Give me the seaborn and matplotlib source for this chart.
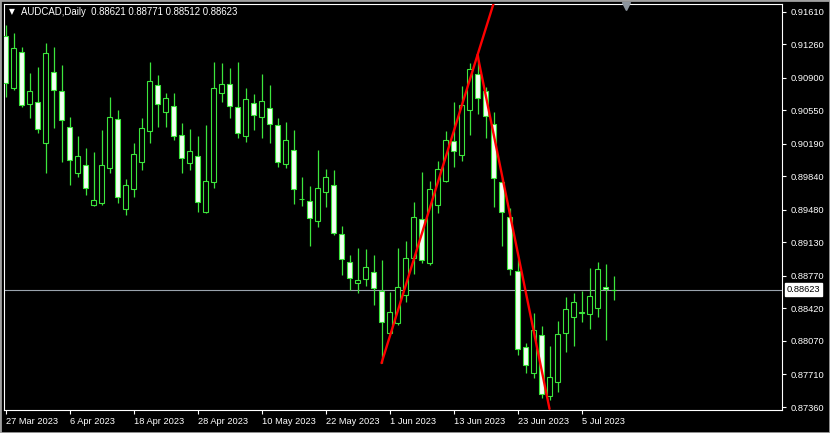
import seaborn as sns
import matplotlib.pyplot as plt
from matplotlib.patches import Rectangle

symbol = "AUDCAD,Daily"

opens = [0.91349, 0.90790, 0.91177, 0.90618, 0.90639, 0.90198, 0.90962, 0.90758, 0.90370, 0.89876,
         0.89962, 0.89532, 0.89553, 0.89930, 0.90456, 0.89489, 0.89704, 0.89994, 0.90327, 0.90822,
         0.90532, 0.90596, 0.90284, 0.89983, 0.90059, 0.89457, 0.89779, 0.90736, 0.90833, 0.90585,
         0.90274, 0.90628, 0.90478, 0.90575, 0.90392, 0.89973, 0.90123, 0.89592, 0.89575, 0.89360,
         0.89672, 0.89747, 0.89220, 0.88919, 0.88693, 0.88736, 0.88812, 0.88607, 0.88156, 0.88263,
         0.88564, 0.88962, 0.89381, 0.88908, 0.89532, 0.89790, 0.90220, 0.90069, 0.90553, 0.90940,
         0.90758, 0.90403, 0.89779, 0.89403, 0.88822, 0.88005, 0.87726, 0.88134, 0.87478, 0.87629,
         0.88156, 0.88328, 0.88376, 0.88360, 0.88425, 0.88650, 0.88621]
highs = [0.91467, 0.91381, 0.91231, 0.90951, 0.91016, 0.91274, 0.91231, 0.91037, 0.90478, 0.90274,
         0.90145, 0.90102, 0.90338, 0.90693, 0.90553, 0.89811, 0.90198, 0.90467, 0.91069, 0.90930,
         0.90736, 0.90736, 0.90413, 0.90349, 0.90274, 0.90392, 0.91069, 0.91059, 0.91005, 0.91069,
         0.90790, 0.90725, 0.90940, 0.90822, 0.90467, 0.90424, 0.90338, 0.89833, 0.89736, 0.90123,
         0.89919, 0.89908, 0.89306, 0.88994, 0.89070, 0.89059, 0.88994, 0.88941, 0.88597, 0.89070,
         0.89145, 0.89564, 0.89887, 0.89790, 0.90005, 0.90327, 0.90639, 0.90811, 0.91059, 0.91145,
         0.90801, 0.90532, 0.89833, 0.89500, 0.88951, 0.88048, 0.88371, 0.88231, 0.88016, 0.88285,
         0.88543, 0.88586, 0.88607, 0.88855, 0.88919, 0.88898, 0.88771]
lows = [0.90693, 0.90768, 0.90585, 0.90467, 0.90306, 0.89876, 0.90360, 0.89994, 0.89747, 0.89833,
        0.89639, 0.89521, 0.89532, 0.89876, 0.89553, 0.89424, 0.89618, 0.89908, 0.90198, 0.90370,
        0.90370, 0.90231, 0.89876, 0.89908, 0.89457, 0.89446, 0.89715, 0.90639, 0.90467, 0.90252,
        0.90209, 0.90338, 0.90252, 0.90198, 0.89940, 0.89930, 0.89543, 0.89521, 0.89091, 0.89295,
        0.89510, 0.89209, 0.88779, 0.88618, 0.88586, 0.88661, 0.88457, 0.87833, 0.88145, 0.88242,
        0.88489, 0.88790, 0.88908, 0.88887, 0.89446, 0.89779, 0.89940, 0.90005, 0.90284, 0.90510,
        0.90252, 0.89510, 0.89091, 0.88779, 0.87919, 0.87726, 0.87672, 0.87457, 0.87435, 0.87521,
        0.87951, 0.88016, 0.88274, 0.88199, 0.88328, 0.88081, 0.88512]
closes = [0.90843, 0.91220, 0.90607, 0.90758, 0.90349, 0.91166, 0.90768, 0.90446, 0.90016, 0.90059,
          0.89715, 0.89586, 0.89962, 0.90478, 0.89618, 0.89747, 0.90080, 0.90360, 0.90865, 0.90618,
          0.90682, 0.90274, 0.90037, 0.90112, 0.89564, 0.89790, 0.90790, 0.90833, 0.90596, 0.90306,
          0.90672, 0.90499, 0.90650, 0.90403, 0.89994, 0.90231, 0.89704, 0.89596, 0.89392, 0.89715,
          0.89833, 0.89231, 0.88951, 0.88747, 0.88726, 0.88865, 0.88640, 0.88274, 0.88382, 0.88650,
          0.88962, 0.89403, 0.88941, 0.89704, 0.89919, 0.90231, 0.90112, 0.90607, 0.90994, 0.90682,
          0.90489, 0.89822, 0.89457, 0.88844, 0.87984, 0.87812, 0.88188, 0.87500, 0.87683, 0.88145,
          0.88414, 0.88489, 0.88382, 0.88554, 0.88844, 0.88629, 0.88623]

date_labels = ["27 Mar 2023", "6 Apr 2023", "18 Apr 2023", "28 Apr 2023", "10 May 2023",
               "22 May 2023", "1 Jun 2023", "13 Jun 2023", "23 Jun 2023", "5 Jul 2023"]
bars_per_label = 8

price_ticks = [0.91610, 0.91260, 0.90900, 0.90550, 0.90190, 0.89840, 0.89480,
               0.89130, 0.88770, 0.88420, 0.88070, 0.87710, 0.87360]

# trend line anchors (bar index, price)
up_start = (47, lows[47])
peak = (59, highs[59])
down_end = (68, 0.87340)

green = "#3ce63c"
bull_face = "black"
bear_face = "#f4fff4"

sns.set_theme(style="dark", rc={"axes.facecolor": "black", "figure.facecolor": "black"})
plt.rcParams["font.family"] = ["Liberation Sans", "DejaVu Sans"]

fig = plt.figure(figsize=(8.3, 4.33), dpi=100)
ax = fig.add_axes([4 / 830, 23 / 433, 778 / 830, 406 / 433])
ax.set_facecolor("black")
ax.grid(False)

n = len(opens)
x = list(range(n))

# current price line
ax.axhline(closes[-1], color="#9aa3ad", lw=0.8, zorder=1)

# wicks
ax.vlines(x, lows, highs, color=green, lw=0.9, zorder=2)

# bodies
bottoms = [min(o, c) for o, c in zip(opens, closes)]
heights = [max(abs(c - o), 0.00002) for o, c in zip(opens, closes)]
faces = [bull_face if c >= o else bear_face for o, c in zip(opens, closes)]
ax.bar(x, heights, bottom=bottoms, width=0.55, color=faces, edgecolor=green,
       linewidth=0.8, zorder=3)

# trend lines
slope = (peak[1] - up_start[1]) / (peak[0] - up_start[0])
ray_x = peak[0] + 3
sns.lineplot(x=[up_start[0], peak[0], ray_x],
             y=[up_start[1], peak[1], peak[1] + slope * (ray_x - peak[0])],
             color="red", lw=1.7, ax=ax, zorder=4, sort=False)
sns.lineplot(x=[peak[0], down_end[0]], y=[peak[1], down_end[1]],
             color="red", lw=1.7, ax=ax, zorder=4, sort=False)

ax.set_xlim(-0.19, 97.06)
ax.set_ylim(0.87328, 0.91693)
ax.set_xlabel("")
ax.set_ylabel("")

# axes ticks
ax.yaxis.tick_right()
ax.set_yticks(price_ticks)
ax.set_yticklabels([f"{p:.5f}" for p in price_ticks])
ax.set_xticks([i * bars_per_label for i in range(len(date_labels))])
ax.set_xticklabels(date_labels)
for lab in ax.get_xticklabels():
    lab.set_horizontalalignment("left")
ax.tick_params(axis="both", colors="white", labelcolor="white", labelsize=6.7,
               direction="out", length=3, width=0.8, pad=2)
ax.tick_params(axis="x", bottom=True, pad=2)
ax.tick_params(axis="y", right=True, left=False, pad=3)

for sp in ax.spines.values():
    sp.set_color("white")
    sp.set_linewidth(0.8)
    sp.set_visible(True)

# last price tag
ax.annotate(f"{closes[-1]:.5f}", xy=(1.006, closes[-1]), xycoords=("axes fraction", "data"),
            ha="left", va="center", fontsize=6.7, color="black",
            bbox=dict(boxstyle="square,pad=0.18", fc="white", ec="white"),
            annotation_clip=False, zorder=6)

# chart shift marker
ax.plot([77.6], [0.994], transform=ax.get_xaxis_transform(), marker="v", ms=5.5,
        color="#8c949c", clip_on=False, zorder=6)

# header
fig.text(12 / 830, 1 - 12 / 433, "\u25bc", ha="center", va="center", fontsize=5.5,
         color="white", family="DejaVu Sans")
fig.text(21 / 830, 1 - 12 / 433,
         f"{symbol}  {opens[-1]:.5f} {highs[-1]:.5f} {lows[-1]:.5f} {closes[-1]:.5f}",
         ha="left", va="center", fontsize=6.9, color="white")

fig.patches.append(Rectangle((0, 0), 1, 1, transform=fig.transFigure, fill=False,
                             ec="#a0a0a0", lw=2))

fig.savefig("out.png", dpi=100, facecolor="black")
